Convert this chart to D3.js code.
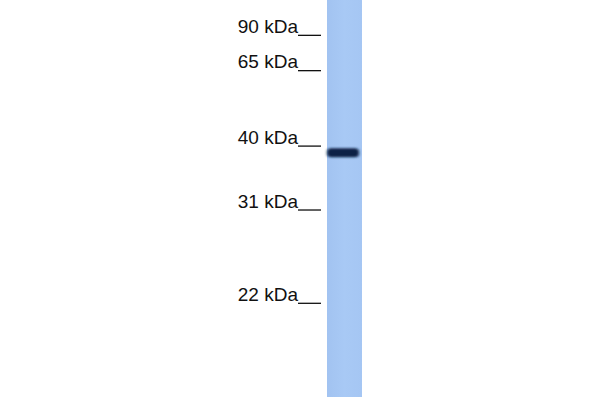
<!DOCTYPE html>
<html>
<head>
<meta charset="utf-8">
<script src="https://cdn.jsdelivr.net/npm/d3@7"></script>
<style>
  html, body { margin: 0; padding: 0; background: #fff; }
  svg { display: block; }
</style>
</head>
<body>
<div id="chart"></div>
<script>
// marker ladder: labels and migration (fraction of lane length from the top)
const markerLabels = ["90 kDa", "65 kDa", "40 kDa", "31 kDa", "22 kDa"];
const markerMigration = [0.089, 0.178, 0.368, 0.529, 0.764];

// detected bands in the single lane
const bandMigration = [0.385];
const bandIntensity = [1.0];

const width = 600;
const height = 400;

const svg = d3.select("#chart")
  .append("svg")
  .attr("width", width)
  .attr("height", height);

// lane geometry
const lane = { x0: 327, x1: 362, y0: 0, y1: 397 };

const y = d3.scaleLinear()
  .domain([0, 1])
  .range([lane.y0, lane.y1]);

const defs = svg.append("defs");

const laneGrad = defs.append("linearGradient")
  .attr("id", "laneGrad")
  .attr("x1", 0).attr("x2", 1).attr("y1", 0).attr("y2", 0);
laneGrad.append("stop").attr("offset", "0%").attr("stop-color", "#a2c3f1");
laneGrad.append("stop").attr("offset", "50%").attr("stop-color", "#a8c9f5");
laneGrad.append("stop").attr("offset", "100%").attr("stop-color", "#a5c6f3");

defs.append("filter")
  .attr("id", "blur")
  .attr("x", "-20%").attr("y", "-100%")
  .attr("width", "140%").attr("height", "300%")
  .append("feGaussianBlur")
  .attr("stdDeviation", "1.6 1.3");

// the lane
svg.append("rect")
  .attr("x", lane.x0)
  .attr("y", lane.y0)
  .attr("width", lane.x1 - lane.x0)
  .attr("height", lane.y1 - lane.y0)
  .attr("fill", "url(#laneGrad)");

// bands
svg.selectAll("rect.band")
  .data(bandMigration)
  .enter()
  .append("rect")
  .attr("class", "band")
  .attr("x", lane.x0)
  .attr("y", d => y(d) - 4.5)
  .attr("width", lane.x1 - lane.x0 - 3)
  .attr("height", 9)
  .attr("rx", 4)
  .attr("fill", "#0c2345")
  .attr("opacity", (d, i) => bandIntensity[i])
  .attr("filter", "url(#blur)");

// marker ticks and labels
const markers = svg.selectAll("g.marker")
  .data(markerMigration)
  .enter()
  .append("g")
  .attr("class", "marker")
  .attr("transform", d => `translate(0,${y(d)})`);

markers.append("line")
  .attr("x1", 298)
  .attr("x2", 321)
  .attr("y1", 0)
  .attr("y2", 0)
  .attr("stroke", "#111")
  .attr("stroke-width", 1.3);

markers.append("text")
  .attr("x", 298)
  .attr("y", -2.5)
  .attr("text-anchor", "end")
  .style("font-family", "'Liberation Sans', Arial, sans-serif")
  .style("font-size", "19px")
  .style("fill", "#111")
  .text((d, i) => markerLabels[i]);
</script>
</body>
</html>
